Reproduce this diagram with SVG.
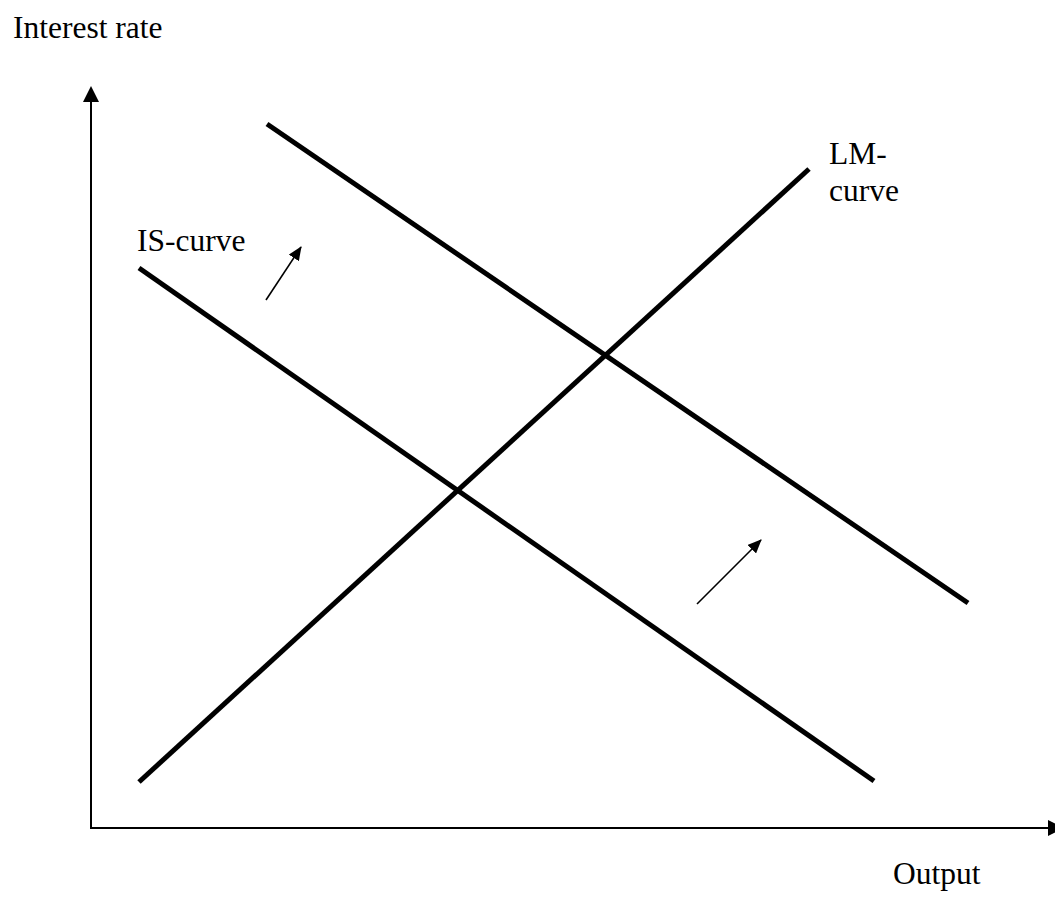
<svg xmlns="http://www.w3.org/2000/svg" width="1055" height="901" viewBox="0 0 1055 901">
<defs>
<style>
.lbl{font-family:"Liberation Serif","Times New Roman",serif;font-size:31.5px;fill:#000}
.curve{stroke:#000;stroke-width:5;fill:none}
.axis{stroke:#000;stroke-width:2;fill:none}
.shift{stroke:#000;stroke-width:1.6;fill:none}
</style>
<marker id="axhead" viewBox="0 0 16 16" refX="14" refY="8" markerWidth="16" markerHeight="16" markerUnits="userSpaceOnUse" orient="auto">
<path d="M0,0 L16,8 L0,16 Z" fill="#000"/>
</marker>
<marker id="smhead" viewBox="0 0 14 12" refX="13" refY="6" markerWidth="14" markerHeight="12" markerUnits="userSpaceOnUse" orient="auto">
<path d="M0,0 L14,6 L0,12 Z" fill="#000"/>
</marker>
</defs>
<rect width="1055" height="901" fill="#fff"/>
<g id="connectors">
<line class="axis" x1="91" y1="829" x2="91" y2="88" marker-end="url(#axhead)"/>
<line class="axis" x1="91" y1="828" x2="1062" y2="828" marker-end="url(#axhead)"/>
<line class="shift" x1="266" y1="300" x2="301" y2="247" marker-end="url(#smhead)"/>
<line class="shift" x1="697" y1="604" x2="761" y2="540" marker-end="url(#smhead)"/>
</g>
<g id="is-curve-1">
<line class="curve" x1="139" y1="268" x2="874" y2="781"/>
</g>
<g id="is-curve-2">
<line class="curve" x1="267" y1="124" x2="968" y2="603"/>
</g>
<g id="lm-curve">
<line class="curve" x1="139" y1="782" x2="809" y2="169"/>
</g>
<g id="labels">
<text class="lbl" x="13" y="38">Interest rate</text>
<text class="lbl" x="137" y="251">IS-curve</text>
<text class="lbl" x="829" y="164">LM-</text>
<text class="lbl" x="829" y="201">curve</text>
<text class="lbl" x="893" y="884">Output</text>
</g>
</svg>
